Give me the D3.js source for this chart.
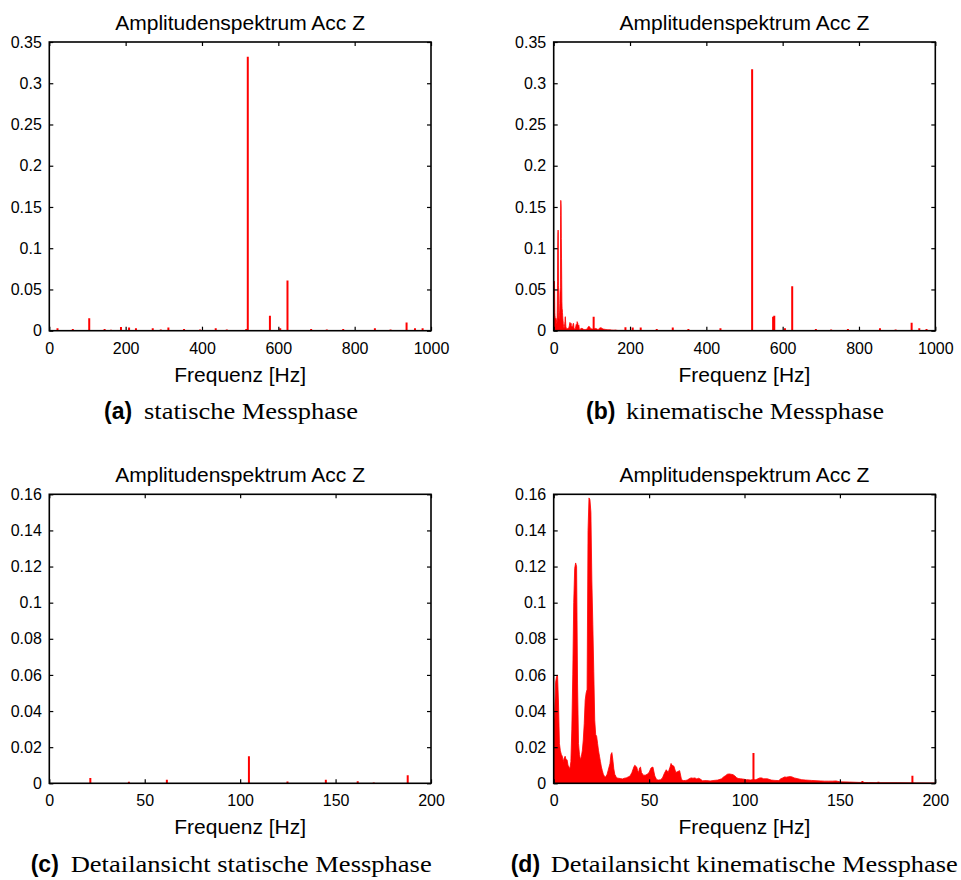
<!DOCTYPE html>
<html>
<head>
<meta charset="utf-8">
<script src="https://cdnjs.cloudflare.com/ajax/libs/d3/7.8.5/d3.min.js"></script>
<style>
	body { margin: 0; background: #fff; }
	svg text { font-family: "Liberation Sans", Arial, sans-serif; fill: #000; }
	.tick text { font-size: 16px; }
	.title, .xlabel { font-size: 21px; }
	.capbold { font-weight: bold; font-size: 23px; }
	.capserif { font-family: "Liberation Serif", "Times New Roman", serif !important; font-size: 24px; }
</style>
</head>
<body>
<div class="canvas"></div>
<script>

// static measuring phase: single peaks (Hz, amplitude)
var staticFreq = [21.5, 41.7, 61.6, 104.6, 124.8, 144.9, 161.6, 170, 187.8, 209, 227, 271, 292, 312, 353, 373, 395, 417, 436, 458, 465, 476, 516, 520, 541, 578, 605, 624, 686, 705, 727, 770, 790, 810, 853, 873, 894, 936, 958, 978, 989];
var staticAmp  = [0.003, 0.0008, 0.002, 0.015, 0.001, 0.002, 0.0012, 0.0005, 0.0045, 0.004, 0.003, 0.003, 0.0015, 0.004, 0.002, 0.001, 0.0015, 0.001, 0.003, 0.001, 0.0015, 0.001, 0.002, 0.332, 0.001, 0.018, 0.003, 0.061, 0.002, 0.001, 0.0015, 0.002, 0.001, 0.001, 0.003, 0.001, 0.0015, 0.010, 0.003, 0.003, 0.001];

// kinematic measuring phase: broadband part 0-200 Hz
var kinFreq = [0, 0.5, 1, 1.5, 2, 2.5, 3, 3.5, 4, 4.5, 5, 5.5, 6, 6.5, 7, 7.5, 8, 8.5, 9, 9.5,
	10, 10.5, 11, 11.5, 12, 12.5, 13, 13.5, 14, 14.5, 15, 15.5, 16, 16.5, 17, 17.5, 18, 18.5, 19, 19.5,
	20, 20.5, 21, 21.5, 22, 22.5, 23, 23.5, 24, 24.5, 25, 25.5, 26, 26.5, 27, 27.5, 28, 28.5, 29, 29.5,
	30, 30.5, 31, 31.5, 32, 32.5, 33, 34, 35, 36, 37, 38, 39, 40, 41, 42, 42.5, 43, 43.5, 44, 44.5, 45, 45.5, 46, 47, 48, 49,
	50, 51, 52, 53, 54, 55, 56, 57, 58, 59, 60, 61, 61.5, 62, 63, 64, 65, 66, 67, 68, 69,
	70, 71, 72, 73, 74, 75, 76, 77, 78, 80, 82, 84, 86, 88, 89, 90, 91, 92, 93, 94, 95, 96, 97, 98, 99,
	100, 101, 102, 103, 104, 106, 107, 108, 109, 110, 112, 114, 116, 118, 119, 120, 121, 122, 123, 124, 125, 126, 128,
	130, 132, 135, 138, 140, 142, 144, 146, 148, 150, 155, 160, 165, 170, 180, 190, 200];
var kinAmp = [0.033, 0.040, 0.056, 0.059, 0.060, 0.045, 0.022, 0.018, 0.016, 0.015, 0.012, 0.014, 0.015, 0.013, 0.013, 0.010, 0.009, 0.008, 0.012, 0.030,
	0.060, 0.100, 0.119, 0.122, 0.120, 0.055, 0.022, 0.016, 0.013, 0.015, 0.018, 0.024, 0.033, 0.046, 0.050, 0.052, 0.140, 0.158, 0.157, 0.150,
	0.112, 0.088, 0.062, 0.035, 0.027, 0.026, 0.022, 0.018, 0.015, 0.012, 0.009, 0.007, 0.005, 0.004, 0.0035, 0.004, 0.005, 0.007, 0.009, 0.011,
	0.016, 0.017, 0.013, 0.008, 0.005, 0.004, 0.003, 0.0028, 0.0026, 0.0024, 0.0028, 0.003, 0.0035, 0.004, 0.006, 0.009, 0.010, 0.0095, 0.009, 0.007, 0.006, 0.0085, 0.009, 0.006, 0.0045, 0.0045, 0.005,
	0.006, 0.0085, 0.009, 0.004, 0.002, 0.0018, 0.002, 0.003, 0.0055, 0.0075, 0.006, 0.009, 0.011, 0.010, 0.0095, 0.006, 0.0065, 0.007, 0.002, 0.0015, 0.0016,
	0.0018, 0.0025, 0.003, 0.0028, 0.003, 0.0024, 0.0028, 0.0022, 0.0014, 0.0015, 0.0013, 0.0016, 0.0018, 0.0025, 0.0035, 0.0042, 0.005, 0.0052, 0.005, 0.0048, 0.004, 0.003, 0.0026, 0.0025, 0.0024,
	0.0022, 0.002, 0.002, 0.0018, 0.002, 0.002, 0.0025, 0.003, 0.003, 0.0025, 0.0025, 0.0018, 0.0016, 0.0015, 0.0025, 0.003, 0.0035, 0.0034, 0.0036, 0.0037, 0.0035, 0.003, 0.0025, 0.002,
	0.0018, 0.0016, 0.0014, 0.0013, 0.0012, 0.0012, 0.0012, 0.0013, 0.0008, 0.0007, 0.0005, 0.0004, 0.0003, 0.0003, 0.0002, 0.0001, 0];

// kinematic measuring phase: single peaks
var kinPeakFreq = [104.7, 161.8, 170.2, 188, 207, 228, 270, 292, 312, 353, 374, 416, 437, 458, 465, 520, 541, 575, 578, 606, 625, 687, 706, 727, 771, 793, 855, 877, 896, 938, 958, 977, 990];
var kinPeakAmp  = [0.0168, 0.0013, 0.0008, 0.0042, 0.004, 0.004, 0.002, 0.001, 0.004, 0.002, 0.001, 0.001, 0.003, 0.001, 0.001, 0.317, 0.001, 0.017, 0.018, 0.003, 0.054, 0.002, 0.001, 0.0015, 0.002, 0.001, 0.003, 0.001, 0.0015, 0.0095, 0.003, 0.002, 0.001];

var xTicksFull = [0, 200, 400, 600, 800, 1000];
var xTicksDetail = [0, 50, 100, 150, 200];
var yTicksFull = [0, 0.05, 0.1, 0.15, 0.2, 0.25, 0.3, 0.35];
var yTicksDetail = [0, 0.02, 0.04, 0.06, 0.08, 0.1, 0.12, 0.14, 0.16];

var titleText = "Amplitudenspektrum Acc Z";
var xLabelText = "Frequenz [Hz]";


var svg = d3.select(".canvas")
				.append("svg")
				.attr("width", 961)
				.attr("height", 880);

var fmt = d3.format("~g");

function drawPanel(p){

	var x = d3.scaleLinear().domain([0, p.xMax]).range([p.x0, p.x1]);
	var y = d3.scaleLinear().domain([0, p.yMax]).range([p.y1, p.y0]);

	svg.append("clipPath")
		.attr("id", "clip" + p.id)
		.append("rect")
		.attr("x", p.x0).attr("y", p.y0)
		.attr("width", p.x1 - p.x0).attr("height", p.y1 - p.y0);

	var g = svg.append("g").attr("clip-path", "url(#clip" + p.id + ")");

	// broadband spectrum
	if (p.kinematic){
		var pts = kinFreq.map(function(f, i){ return [f, kinAmp[i]]; })
						.filter(function(d){ return d[0] <= p.xMax; });
		var area = d3.area()
					.x(function(d){ return x(d[0]); })
					.y0(y(0))
					.y1(function(d){ return y(d[1]); });
		g.append("path")
			.attr("d", area(pts))
			.attr("fill", "#ff0000")
			.attr("stroke", "#ff0000")
			.attr("stroke-width", 0.8);
	}

	// single peaks
	var fr = p.kinematic ? kinPeakFreq : staticFreq;
	var am = p.kinematic ? kinPeakAmp : staticAmp;
	var peaks = fr.map(function(f, i){ return [f, am[i]]; })
					.filter(function(d){ return d[0] <= p.xMax; });

	g.selectAll("line.peak")
		.data(peaks)
		.enter()
		.append("line")
		.attr("class", "peak")
		.attr("x1", function(d){ return x(d[0]); })
		.attr("x2", function(d){ return x(d[0]); })
		.attr("y1", y(0))
		.attr("y2", function(d){ return y(d[1]); })
		.attr("stroke", "#ff0000")
		.attr("stroke-width", 2);

	// axes, ticks pointing inwards on all four sides
	svg.append("g")
		.attr("transform", "translate(0," + p.y1 + ")")
		.call(d3.axisBottom(x).tickValues(p.xTicks).tickFormat(fmt).tickSize(-4).tickPadding(11.5));
	svg.append("g")
		.attr("transform", "translate(0," + p.y0 + ")")
		.call(d3.axisTop(x).tickValues(p.xTicks).tickFormat("").tickSize(-4));
	svg.append("g")
		.attr("transform", "translate(" + p.x0 + ",0)")
		.call(d3.axisLeft(y).tickValues(p.yTicks).tickFormat(fmt).tickSize(-4).tickPadding(7.5));
	svg.append("g")
		.attr("transform", "translate(" + p.x1 + ",0)")
		.call(d3.axisRight(y).tickValues(p.yTicks).tickFormat("").tickSize(-4));

	svg.selectAll(".domain").remove();
	svg.selectAll(".tick line").attr("stroke", "#000").attr("stroke-width", 1.2);
	svg.selectAll(".tick text").attr("fill", "#000");

	svg.append("rect")
		.attr("x", p.x0).attr("y", p.y0)
		.attr("width", p.x1 - p.x0).attr("height", p.y1 - p.y0)
		.attr("fill", "none")
		.attr("stroke", "#000")
		.attr("stroke-width", 1.6);

	svg.append("text")
		.attr("class", "title")
		.attr("x", (p.x0 + p.x1) / 2)
		.attr("y", p.y0 - 12.5)
		.attr("text-anchor", "middle")
		.text(titleText);

	svg.append("text")
		.attr("class", "xlabel")
		.attr("x", (p.x0 + p.x1) / 2)
		.attr("y", p.y1 + 51)
		.attr("text-anchor", "middle")
		.text(xLabelText);

	// subfigure caption
	svg.append("text")
		.attr("class", "capbold")
		.attr("x", p.capX)
		.attr("y", p.capY)
		.text(p.capTag);

	svg.append("text")
		.attr("class", "capserif")
		.attr("x", p.capX + 40)
		.attr("y", p.capY)
		.attr("textLength", p.capLen)
		.attr("lengthAdjust", "spacingAndGlyphs")
		.text(p.capText);
}

drawPanel({ id: "a", x0: 49.3, x1: 431, y0: 42, y1: 330.7, xMax: 1000, yMax: 0.35,
	xTicks: xTicksFull, yTicks: yTicksFull, kinematic: false,
	capX: 104, capY: 419, capTag: "(a)", capText: "statische Messphase", capLen: 214 });

drawPanel({ id: "b", x0: 553.7, x1: 935.3, y0: 42, y1: 330.7, xMax: 1000, yMax: 0.35,
	xTicks: xTicksFull, yTicks: yTicksFull, kinematic: true,
	capX: 586, capY: 419, capTag: "(b)", capText: "kinematische Messphase", capLen: 258 });

drawPanel({ id: "c", x0: 49.3, x1: 431, y0: 494.3, y1: 783.3, xMax: 200, yMax: 0.16,
	xTicks: xTicksDetail, yTicks: yTicksDetail, kinematic: false,
	capX: 30.7, capY: 871.7, capTag: "(c)", capText: "Detailansicht statische Messphase", capLen: 361 });

drawPanel({ id: "d", x0: 553.7, x1: 935.3, y0: 494.3, y1: 783.3, xMax: 200, yMax: 0.16,
	xTicks: xTicksDetail, yTicks: yTicksDetail, kinematic: true,
	capX: 510.7, capY: 871.7, capTag: "(d)", capText: "Detailansicht kinematische Messphase", capLen: 407 });

</script>
</body>
</html>
